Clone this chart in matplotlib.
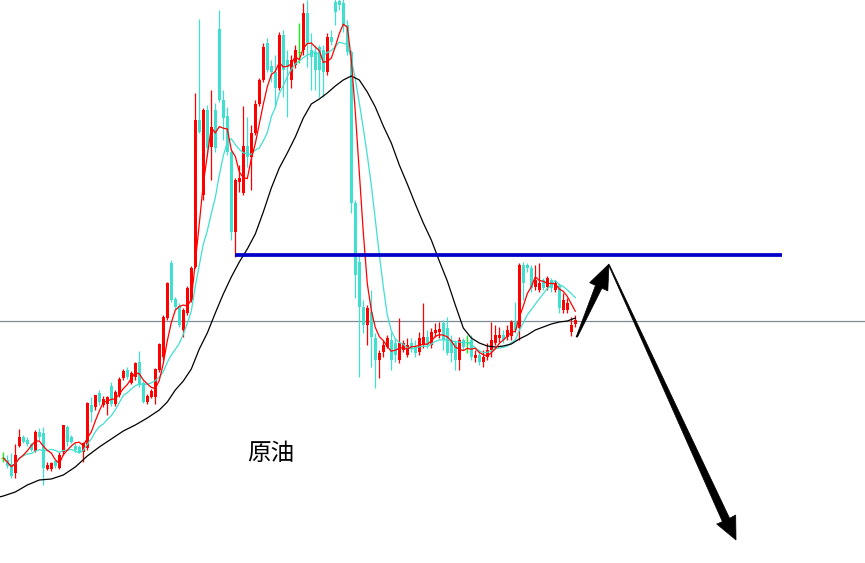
import matplotlib
matplotlib.use("Agg")
import matplotlib.pyplot as plt
import numpy as np
import pandas as pd
from matplotlib.patches import Polygon

plt.rcParams['font.family'] = ['Noto Sans CJK SC', 'DejaVu Sans']

# ---- data (chart units: vertical axis runs downward) ----
open_ = [458, 460, 464, 473, 446, 437, 440, 444, 451, 432, 433, 469, 469, 461, 468, 452, 427, 437, 446, 447,
         452, 448, 405, 407, 393, 405, 404, 386, 404, 395, 378, 370, 383, 377, 362, 383, 402, 397, 397, 370,
         357, 318, 263, 299, 306, 330, 313, 300, 267, 120, 195, 110, 147, 110, 29, 100, 116, 152, 232, 182,
         193, 146, 157, 133, 104, 80, 43, 66, 72, 88, 35, 60, 80, 65, 52, 50, 13, 50, 53, 47,
         50, 72, 37, 2, 1, 3, 25, 52, 203, 262, 307, 325, 312, 338, 360, 352, 347, 340, 343, 360,
         350, 355, 343, 347, 352, 345, 337, 345, 333, 332, 323, 328, 340, 343, 360, 340, 342, 340, 358, 355,
         362, 357, 350, 343, 338, 335, 337, 336, 322, 328, 265, 265, 268, 287, 290, 280, 287, 280, 290, 285,
         310, 310, 332, 324]
close = [458, 466, 476, 455, 437, 442, 444, 450, 432, 437, 468, 465, 463, 466, 455, 425, 442, 442, 450, 452,
         443, 403, 412, 395, 402, 399, 397, 404, 392, 379, 371, 377, 373, 363, 385, 402, 396, 391, 369, 344,
         317, 283, 300, 307, 325, 310, 288, 268, 120, 132, 110, 148, 127, 148, 100, 118, 152, 232, 180, 178,
         146, 157, 133, 104, 80, 47, 70, 72, 88, 35, 70, 67, 60, 50, 52, 13, 43, 57, 70, 70,
         72, 37, 42, 12, 5, 25, 52, 203, 275, 307, 325, 308, 337, 360, 353, 345, 338, 360, 355, 343,
         343, 345, 348, 353, 338, 337, 345, 332, 330, 329, 340, 353, 353, 360, 340, 347, 342, 357, 355, 362,
         357, 350, 340, 335, 335, 340, 330, 322, 330, 265, 283, 268, 288, 280, 283, 288, 278, 288, 283, 308,
         300, 303, 325, 320]
high = [452, 455, 453, 444, 429, 435, 437, 443, 430, 428, 427, 462, 462, 460, 452, 425, 425, 435, 443, 445,
        442, 402, 397, 395, 390, 396, 396, 382, 390, 377, 369, 367, 371, 362, 351, 381, 394, 389, 368, 343,
        315, 282, 260, 297, 303, 308, 286, 266, 93, 19, 108, 105, 90, 103, 10, 90, 107, 148, 178, 165,
        106, 117, 125, 100, 78, 43, 38, 60, 55, 32, 30, 50, 55, 45, 23, 3, 0, 33, 45, 45,
        45, 33, 30, -5, -5, -5, 20, 50, 200, 255, 300, 305, 290, 333, 350, 340, 335, 332, 338, 318,
        340, 338, 338, 340, 332, 303, 330, 328, 323, 322, 320, 317, 335, 340, 337, 338, 335, 335, 350, 350,
        350, 343, 322, 325, 327, 330, 325, 320, 302, 263, 262, 263, 265, 265, 263, 278, 276, 278, 280, 283,
        293, 298, 317, 315]
low = [462, 468, 478, 478, 447, 443, 446, 451, 452, 440, 485, 470, 471, 468, 469, 455, 446, 443, 452, 453,
       462, 450, 422, 410, 405, 407, 415, 406, 406, 397, 380, 379, 384, 380, 387, 403, 404, 398, 404, 372,
       360, 320, 302, 309, 327, 337, 315, 302, 268, 133, 200, 157, 180, 152, 102, 140, 155, 240, 257, 192,
       195, 167, 190, 135, 106, 82, 72, 82, 107, 90, 97, 117, 88, 68, 63, 55, 67, 90, 90, 97,
       97, 75, 45, 25, 10, 32, 55, 213, 298, 377, 333, 345, 367, 388, 378, 357, 348, 370, 362, 363,
       352, 357, 352, 357, 355, 348, 348, 348, 337, 338, 350, 355, 362, 370, 370, 350, 353, 360, 362, 365,
       367, 360, 357, 345, 342, 343, 340, 340, 333, 340, 300, 272, 292, 290, 292, 290, 290, 292, 292, 313,
       313, 313, 336, 327]

# long moving average (candle index, value)
slow_ma_idx = [-1, 0, 3, 6, 9, 12, 15, 18, 21, 24, 27, 30, 33, 36, 39, 41, 43, 45, 47, 49, 51, 53, 55, 57, 59,
               61, 63, 65, 67, 69, 71, 73, 75, 77, 79, 81, 83, 85, 87, 89, 91, 93, 95, 97, 99, 101, 103,
               105, 107, 109, 111, 113, 115, 117, 119, 121, 123, 125, 127, 129, 131, 133, 135, 137, 139,
               141, 143]
slow_ma_val = [497, 496, 492, 485, 480, 479, 475, 467, 456, 447, 439, 431, 425, 418, 410, 402, 390, 381, 369,
               349, 333, 313, 294, 277, 262, 249, 234, 212, 188, 168, 153, 137, 118, 104, 99, 93, 86, 80,
               76, 80, 92, 107, 126, 143, 165, 184, 204, 223, 240, 261, 281, 305, 328, 338, 343, 346, 347,
               346, 344, 339, 335, 330, 327, 324, 322, 321, 318]

resistance_level = 255
reference_level = 321
resistance_start = 57.9
resistance_end = 194.7
label_text = "原油"

# ---- figure ----
fig = plt.figure(figsize=(8.65, 5.63), dpi=100)
ax = fig.add_axes([0, 0, 1, 1])
ax.set_xlim(-0.825, 215.425)
ax.set_ylim(563, 0)
ax.axis('off')

o = np.array(open_, float)
c = np.array(close, float)
h = np.array(high, float)
l = np.array(low, float)
x = np.arange(len(o))

UP = '#ff0000'
DOWN = '#40e0d0'
DOJI = '#00ff00'
colors = np.where(c < o, UP, np.where(c > o, DOWN, DOJI))

ax.axhline(reference_level, color='#7f8a94', lw=0.9, zorder=1)

ax.vlines(x, h, l, colors=colors, lw=0.9, zorder=2)
body_bottom = np.minimum(o, c)
body_h = np.maximum(np.abs(o - c), 0.9)
mask = c != o
ax.bar(x[mask], body_h[mask], bottom=body_bottom[mask], width=0.78,
       color=colors[mask], linewidth=0, zorder=3)
ax.hlines(o[~mask], x[~mask] - 0.45, x[~mask] + 0.45, colors=DOJI, lw=0.9, zorder=3)

s = pd.Series(c)
ma5 = s.rolling(5, min_periods=1).mean()
ma10 = s.rolling(10, min_periods=1).mean()
ax.plot(x, ma10, color=DOWN, lw=0.9, zorder=4)
ax.plot(x, ma5, color=UP, lw=0.9, zorder=5)
ax.plot(slow_ma_idx, slow_ma_val, color='black', lw=0.9, zorder=4)

ax.hlines(resistance_level, resistance_start, resistance_end, colors='#0000c8', lw=2.7, zorder=6)

# arrows (annotation shapes, in candle-index / chart units)
up_arrow = [(143.2, 337), (148.05, 285.4), (146.58, 282.7), (151.43, 264),
            (151.13, 290.9), (149.65, 288.2), (143.55, 337)]
down_arrow = [(151.3, 265), (179.78, 521.7), (178.35, 524), (183.18, 540),
              (183.1, 515), (181.58, 518.3), (151.55, 265)]
for pts in (up_arrow, down_arrow):
    ax.add_patch(Polygon(pts, closed=True, facecolor='black', edgecolor='black', lw=0.5, zorder=7))

ax.text(66.9, 453, label_text, fontsize=17, ha='center', va='center', color='black', zorder=8)

fig.savefig('out.png', dpi=100)
